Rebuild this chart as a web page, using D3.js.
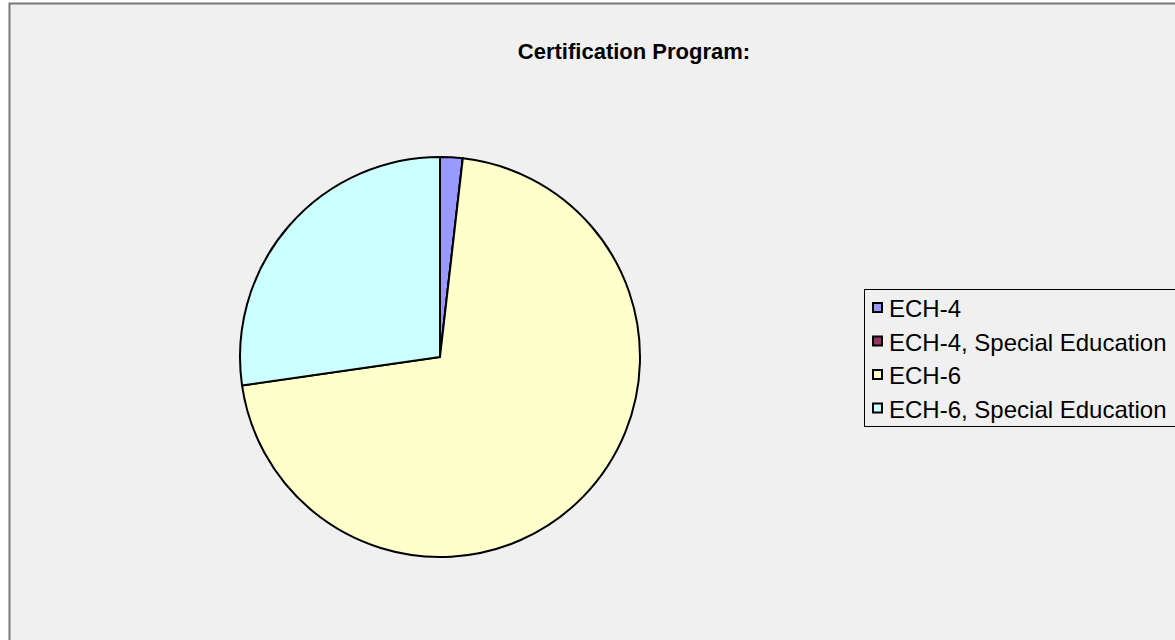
<!DOCTYPE html>
<html>
<head>
<meta charset="utf-8">
<script src="https://cdn.jsdelivr.net/npm/d3@7"></script>
<style>
  body { margin: 0; background: #fff; }
  svg { display: block; font-family: "Liberation Sans", Arial, sans-serif; }
</style>
</head>
<body>
<script>
// data
var categories = ["ECH-4", "ECH-4, Special Education", "ECH-6", "ECH-6, Special Education"];
var counts = [1, 0, 39, 15];
var colors = ["#9999ff", "#993366", "#ffffcc", "#ccffff"];
var title = "Certification Program:";

var width = 1175, height = 640;
var cx = 440, cy = 357, radius = 200;

var svg = d3.select("body").append("svg")
  .attr("width", width)
  .attr("height", height);

// chart area
svg.append("rect")
  .attr("x", 9.5).attr("y", 3.5)
  .attr("width", 1200).attr("height", 700)
  .attr("fill", "#f0f0f0")
  .attr("stroke", "#777")
  .attr("stroke-width", 2);

svg.append("text")
  .attr("x", 634).attr("y", 59)
  .attr("text-anchor", "middle")
  .attr("font-size", 22)
  .attr("font-weight", "bold")
  .attr("fill", "#000")
  .text(title);

var pie = d3.pie().sort(null).value(function (d) { return d; });
var arc = d3.arc().innerRadius(0).outerRadius(radius);

var g = svg.append("g").attr("transform", "translate(" + cx + "," + cy + ")");
g.selectAll("path")
  .data(pie(counts))
  .enter().append("path")
  .attr("d", arc)
  .attr("fill", function (d, i) { return colors[i]; })
  .attr("stroke", "#000")
  .attr("stroke-width", 2)
  .attr("stroke-linejoin", "round");

// legend, centred on the pie vertically
var lg = svg.append("g");
lg.append("rect")
  .attr("x", 864.5).attr("y", 289.5)
  .attr("width", 400).attr("height", 137)
  .attr("fill", "#f0f0f0")
  .attr("stroke", "#000")
  .attr("stroke-width", 1);

var rowY = d3.scaleBand().domain(categories).range([294, 428]);

var item = lg.selectAll(".item")
  .data(categories)
  .enter().append("g")
  .attr("class", "item")
  .attr("transform", function (d) { return "translate(0," + rowY(d) + ")"; });

item.append("rect")
  .attr("x", 873).attr("y", 9)
  .attr("width", 9).attr("height", 9)
  .attr("fill", function (d, i) { return colors[i]; })
  .attr("stroke", "#000")
  .attr("stroke-width", 2);

item.append("text")
  .attr("x", 889).attr("y", 23)
  .attr("font-size", 24)
  .attr("fill", "#000")
  .text(function (d) { return d; });
</script>
</body>
</html>
